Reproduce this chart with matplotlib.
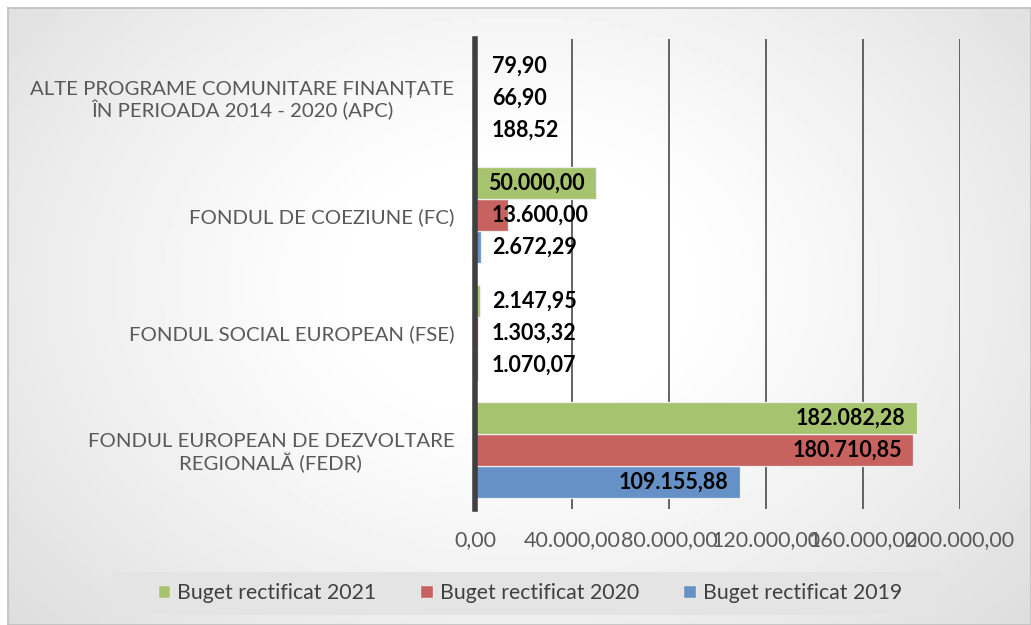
import numpy as np
import matplotlib
matplotlib.use("Agg")
import matplotlib.pyplot as plt
from matplotlib.patches import Rectangle

categories = ["FONDUL EUROPEAN DE DEZVOLTARE\nREGIONALĂ (FEDR)",
              "FONDUL SOCIAL EUROPEAN (FSE)",
              "FONDUL DE COEZIUNE (FC)",
              "ALTE PROGRAME COMUNITARE FINANȚATE\nÎN PERIOADA 2014 - 2020 (APC)"]
series_names = ["Buget rectificat 2019", "Buget rectificat 2020", "Buget rectificat 2021"]
buget_2019 = [109155.88, 1070.07, 2672.29, 188.52]
buget_2020 = [180710.85, 1303.32, 13600.00, 66.90]
buget_2021 = [182082.28, 2147.95, 50000.00, 79.90]
colors = ["#6591c6", "#c8625f", "#a6c36f"]
xticks = [0, 40000, 80000, 120000, 160000, 200000]

plt.rcParams['font.family'] = ['Lato', 'DejaVu Sans']

def fmt(v):
    s = f"{v:,.2f}"
    return s.replace(",", "X").replace(".", ",").replace("X", ".")

fig = plt.figure(figsize=(10.31, 6.25), dpi=100)
fig.patch.set_facecolor("white")

# background radial gradient
bg = fig.add_axes([8/1031, 0, 1-8/1031, 1-8/625], zorder=-10)
yy, xx = np.mgrid[0:1:200j, 0:1:300j]
r = np.sqrt(((xx-0.5)/0.6)**2 + ((yy-0.45)/0.75)**2)
img = np.clip(1 - 0.16*np.clip(r-0.25, 0, None)**1.2, 0, 1)
bg.imshow(img, cmap="gray", vmin=0, vmax=1, aspect="auto", extent=[0, 1, 0, 1])
bg.set_xticks([]); bg.set_yticks([])
for s in bg.spines.values():
    s.set_color("#bfbfbf"); s.set_linewidth(1.2)

ax = fig.add_axes([475/1031, 1-509/625, (960-475)/1031, (509-39)/625])
ax.patch.set_alpha(0)

y = np.arange(len(categories))
h = 0.272
all_series = [buget_2019, buget_2020, buget_2021]
for i, (vals, c) in enumerate(zip(all_series, colors)):
    pos = y + (i-1)*h
    ax.barh(pos, vals, height=h, color=c, edgecolor="#eef0ee", linewidth=0.9, zorder=3)
    for p, v in zip(pos, vals):
        if v >= 40000:
            ax.annotate(fmt(v), (v, p), xytext=(-8, 0), textcoords="offset points",
                        ha="right", va="center", fontsize=15.5, fontweight="bold", color="black", zorder=5)
        else:
            ax.annotate(fmt(v), (0, p), xytext=(12, 0), textcoords="offset points",
                        ha="left", va="center", fontsize=15.5, fontweight="bold", color="black", zorder=5)

ax.set_xlim(0, 200000)
ax.set_ylim(-0.5, len(categories)-0.5)
ax.set_xticks(xticks)
ax.set_xticklabels([fmt(t) for t in xticks], fontsize=15.5, color="#595959")
ax.set_yticks(y)
ax.set_yticklabels(categories, fontsize=14.7, color="#595959", multialignment="center",
                   linespacing=1.15)
ax.tick_params(axis="y", length=0, pad=15)
ax.tick_params(axis="x", length=0, pad=15)
for xt in xticks[1:]:
    ax.axvline(xt, color="#4a4a4a", lw=1.2, zorder=1)
for s in ["top", "right", "bottom"]:
    ax.spines[s].set_visible(False)
ax.spines["left"].set_color("#404040")
ax.spines["left"].set_linewidth(4)
ax.spines["left"].set_zorder(6)

# legend background box
fig.patches.append(Rectangle((112/1031, 1-615/625), (940-112)/1031, 43/625,
                             transform=fig.transFigure, facecolor="#e4e4e4",
                             edgecolor="none", zorder=1))
handles = [Rectangle((0, 0), 1, 1, facecolor=colors[2], edgecolor="#e8e8e8"),
           Rectangle((0, 0), 1, 1, facecolor=colors[1], edgecolor="#e8e8e8"),
           Rectangle((0, 0), 1, 1, facecolor=colors[0], edgecolor="#e8e8e8")]
labels = ["Buget rectificat 2021", "Buget rectificat 2020", "Buget rectificat 2019"]
leg = fig.legend(handles, labels, loc="center", bbox_to_anchor=(530/1031, 1-593/625),
                 ncol=3, frameon=False, fontsize=15.3, handlelength=0.6, handleheight=0.6,
                 handletextpad=0.33, columnspacing=2.07, borderpad=0.3, labelcolor="#404040")

fig.savefig("out.png", dpi=100)
